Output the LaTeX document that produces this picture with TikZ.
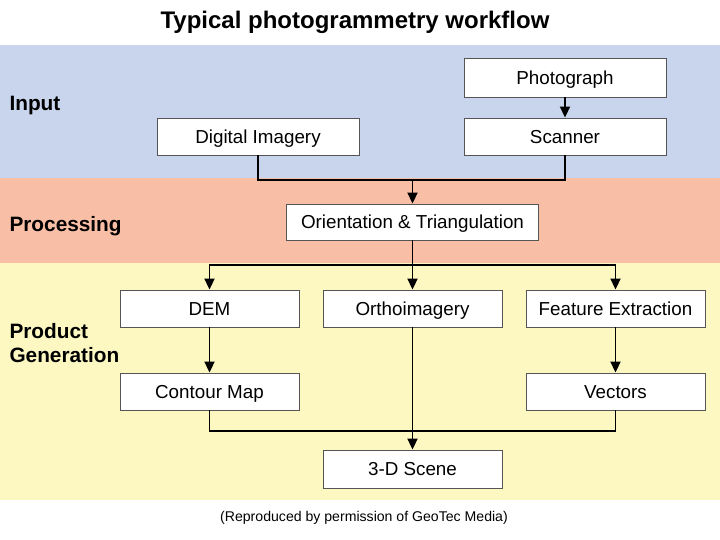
\documentclass[tikz,border=0pt]{standalone}
\usepackage{fontspec}
\setmainfont{Liberation Sans}
\usetikzlibrary{arrows.meta}
\definecolor{bandblue}{HTML}{C8D5EC}
\definecolor{bandred}{HTML}{F8BFA6}
\definecolor{bandyellow}{HTML}{FDF8C2}
\definecolor{boxline}{HTML}{555555}
\begin{document}
\begin{tikzpicture}[x=1pt,y=-1pt,
  box/.style={draw=boxline, line width=0.9pt, fill=white, minimum width=179pt, minimum height=37pt, inner sep=0pt, text height=13.4pt, text depth=0pt, font=\fontsize{18.8}{22}\selectfont},
  widebox/.style={box, minimum width=202pt},
  conn/.style={line width=1.9pt, black},
  arr/.style={conn, -{Triangle[length=11pt, width=10pt]}},
  band/.style={font=\bfseries\fontsize{20.8}{24}\selectfont, anchor=west, align=left}
]
\useasboundingbox[fill=white] (0,0) rectangle (720,540);
% bands
\fill[bandblue] (0,45) rectangle (720,178);
\fill[bandred] (0,178) rectangle (720,263);
\fill[bandyellow] (0,263) rectangle (720,500);
% title and caption
\node[font=\bfseries\fontsize{24}{28}\selectfont] (title) at (355,22) {Typical photogrammetry workflow};
\node[font=\fontsize{14.1}{16}\selectfont] (caption) at (364,518) {(Reproduced by permission of GeoTec Media)};
% band labels
\node[band] (lin) at (6,106) {Input};
\node[band] (lproc) at (6,226) {Processing};
\node[band, text width=130pt] (lprod) at (6,343) {Product\\[0pt]Generation};
% boxes
\node[widebox, minimum height=39pt] (photo) at (565,77.5) {Photograph};
\node[widebox] (digital) at (258,136.5) {Digital Imagery};
\node[widebox] (scanner) at (565,136.5) {Scanner};
\node[box, minimum width=252pt, minimum height=36pt] (orient) at (412.5,222) {Orientation \& Triangulation};
\node[box] (dem) at (209.5,308.5) {DEM};
\node[box] (ortho) at (412.5,308.5) {Orthoimagery};
\node[box] (feature) at (615.5,308.5) {Feature Extraction};
\node[box] (contour) at (209.5,391.5) {Contour Map};
\node[box] (vectors) at (615.5,391.5) {Vectors};
\node[box, minimum height=38pt] (scene) at (412.5,469) {3-D Scene};
% junctions
\coordinate (j1) at (412.5,180);
\coordinate (j2) at (412.5,265);
\coordinate (j3) at (412.5,431);
% connectors
\draw[arr] (photo) -- (scanner);
\draw[conn] (digital.south) |- (j1) -| (scanner.south);
\draw[arr] (j1) -- (orient.north);
\draw[conn] (orient.south) -- (j2);
\draw[arr] (j2) -| (dem.north);
\draw[arr] (j2) -| (feature.north);
\draw[arr] (j2) -- (ortho.north);
\draw[arr] (dem) -- (contour);
\draw[arr] (feature) -- (vectors);
\draw[conn] (contour.south) |- (j3) -| (vectors.south);
\draw[arr] (ortho.south) -- (scene.north);
\end{tikzpicture}
\end{document}
